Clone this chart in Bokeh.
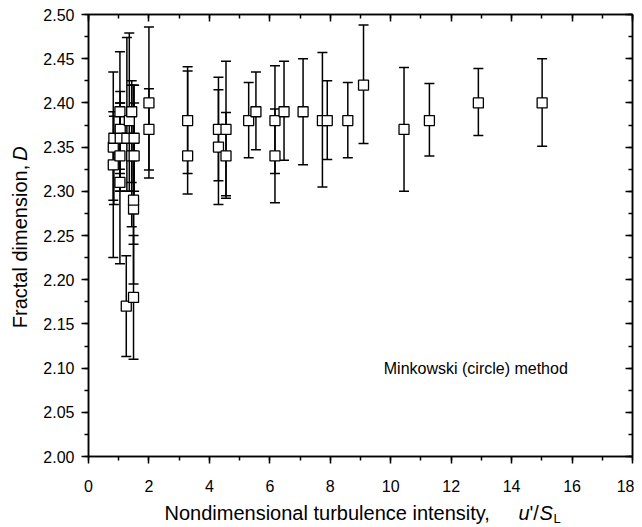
from bokeh.plotting import figure
from bokeh.layouts import row, column
from bokeh.models import (ColumnDataSource, Whisker, TeeHead, LinearAxis, Range1d,
                          SingleIntervalTicker, NumeralTickFormatter, Label)
from bokeh.embed import file_html
from bokeh.resources import INLINE

# ---- data ----
intensity = [0.82, 0.82, 0.84, 1.04, 1.04, 1.04, 1.05, 1.05, 1.25, 1.27, 1.35, 1.43, 1.43,
             1.49, 1.49, 1.49, 1.51, 1.51, 2.0, 2.0,
             3.28, 3.28, 4.30, 4.30, 4.55, 4.55, 5.30, 5.54, 6.17, 6.17, 6.47, 7.10,
             7.74, 7.90, 8.58, 9.10, 10.44, 11.28, 12.90, 15.01]
fractal_d = [2.33, 2.35, 2.36, 2.34, 2.31, 2.39, 2.37, 2.36, 2.17, 2.36, 2.38, 2.39, 2.34,
             2.18, 2.28, 2.29, 2.36, 2.34, 2.40, 2.37,
             2.38, 2.34, 2.37, 2.35, 2.37, 2.34, 2.38, 2.39, 2.38, 2.34, 2.39, 2.39,
             2.38, 2.38, 2.38, 2.42, 2.37, 2.38, 2.40, 2.40]
d_lower = [2.225, 2.290, 2.285, 2.218, 2.300, 2.320, 2.310, 2.300, 2.113, 2.300, 2.300, 2.310, 2.260,
           2.110, 2.195, 2.240, 2.300, 2.290, 2.315, 2.324,
           2.320, 2.297, 2.312, 2.285, 2.295, 2.292, 2.338, 2.347, 2.320, 2.287, 2.335, 2.330,
           2.305, 2.336, 2.338, 2.354, 2.300, 2.340, 2.363, 2.351]
d_upper = [2.435, 2.390, 2.385, 2.458, 2.325, 2.400, 2.413, 2.400, 2.227, 2.474, 2.479, 2.425, 2.420,
           2.250, 2.360, 2.420, 2.420, 2.400, 2.486, 2.416,
           2.441, 2.436, 2.429, 2.415, 2.447, 2.389, 2.423, 2.435, 2.442, 2.393, 2.447, 2.450,
           2.457, 2.425, 2.423, 2.488, 2.440, 2.422, 2.439, 2.450]

x_ticks_interval = 2
y_ticks_interval = 0.05

src = ColumnDataSource(dict(x=intensity, y=fractal_d, lo=d_lower, hi=d_upper))

FONT = "Liberation Sans"
YL_W = 30          # width of the y-title strip
XL_H = 30          # height of the x-title strip
MAIN_W, MAIN_H = 604, 496

xr = Range1d(0, 18)
p = figure(width=MAIN_W, height=MAIN_H, output_backend="svg", toolbar_location=None,
           x_range=xr, y_range=Range1d(2.0, 2.5),
           min_border_left=58, min_border_right=2, min_border_top=14, min_border_bottom=40,
           x_axis_location=None, y_axis_location=None)
p.grid.visible = False
p.outline_line_color = "black"
p.outline_line_width = 1.5
p.background_fill_color = "white"
p.border_fill_color = "white"

xt = SingleIntervalTicker(interval=x_ticks_interval, num_minor_ticks=2)
yt = SingleIntervalTicker(interval=y_ticks_interval, num_minor_ticks=2)

def style(ax, labels, inward):
    ax.axis_line_width = 1.5
    ax.major_tick_line_width = 1.5
    ax.minor_tick_line_width = 1.5
    ax.major_tick_line_color = "black"
    ax.minor_tick_line_color = "black"
    if inward:
        ax.major_tick_in, ax.major_tick_out = 7, 0
        ax.minor_tick_in, ax.minor_tick_out = 4, 0
    else:
        ax.major_tick_in, ax.major_tick_out = 0, 7
        ax.minor_tick_in, ax.minor_tick_out = 0, 4
    ax.major_label_text_font = FONT
    ax.major_label_text_font_size = "16px"
    ax.major_label_text_color = "black"
    if not labels:
        ax.major_label_text_alpha = 0
        ax.major_label_text_font_size = "1px"

bottom = LinearAxis(ticker=xt)
style(bottom, True, False)
bottom.major_label_standoff = 16
left = LinearAxis(ticker=yt, formatter=NumeralTickFormatter(format="0.00"))
style(left, True, False)
left.major_label_standoff = 7
top = LinearAxis(ticker=xt)
style(top, False, True)
right = LinearAxis(ticker=yt)
style(right, False, True)
p.add_layout(bottom, "below")
p.add_layout(left, "left")
p.add_layout(top, "above")
p.add_layout(right, "right")

head_kw = dict(size=10, line_width=1.5, line_color="black")
w = Whisker(source=src, base="x", lower="lo", upper="hi",
            line_width=1.5, line_color="black",
            lower_head=TeeHead(**head_kw), upper_head=TeeHead(**head_kw))
p.add_layout(w)
p.scatter("x", "y", source=src, marker="square", size=10, fill_color="white",
          line_color="black", line_width=1.3)

p.add_layout(Label(x=9.77, y=2.10, text="Minkowski (circle) method", text_font=FONT,
                   text_font_size="16px", text_baseline="middle", text_color="black"))

# ---- x-axis title strip (mixed italics); its frame is aligned with the main frame ----
xfig = figure(width=MAIN_W, height=XL_H, output_backend="svg", toolbar_location=None,
              x_range=xr, y_range=Range1d(XL_H, 0),
              min_border_left=58, min_border_right=2, min_border_top=0, min_border_bottom=0,
              x_axis_location=None, y_axis_location=None)
xfig.grid.visible = False
xfig.outline_line_color = None
xl_x = 2.515
xl_y = 16
pieces = [("Nondimensional turbulence intensity,", "normal", "20px", 0, 0),
          ("u", "italic", "20px", 354, 0),
          ("'/", "normal", "20px", 365, 0),
          ("S", "italic", "20px", 375, 0),
          ("L", "normal", "13px", 389, 6)]
for txt, st, fs, off, yoff in pieces:
    xfig.add_layout(Label(x=xl_x, y=xl_y + yoff, x_offset=off, text=txt, text_font=FONT,
                          text_font_style=st, text_font_size=fs, text_baseline="middle",
                          text_align="left", text_color="black"))

# ---- y-axis title strip ----
TOTAL_H = MAIN_H + XL_H
yfig = figure(width=YL_W, height=TOTAL_H, output_backend="svg", toolbar_location=None,
              x_range=Range1d(0, YL_W), y_range=Range1d(TOTAL_H, 0), min_border=0,
              x_axis_location=None, y_axis_location=None)
yfig.grid.visible = False
yfig.outline_line_color = None
yfig.add_layout(Label(x=19, y=246, text="Fractal dimension,", text_font=FONT,
                      text_font_size="20px", angle=90, angle_units="deg",
                      text_align="center", text_baseline="middle", text_color="black"))
yfig.add_layout(Label(x=19, y=153, text="D", text_font=FONT, text_font_style="italic",
                      text_font_size="20px", angle=90, angle_units="deg",
                      text_align="center", text_baseline="middle", text_color="black"))

layout = row(yfig, column(p, xfig, spacing=0), spacing=0)

open("out.html", "w").write(file_html(layout, INLINE))
